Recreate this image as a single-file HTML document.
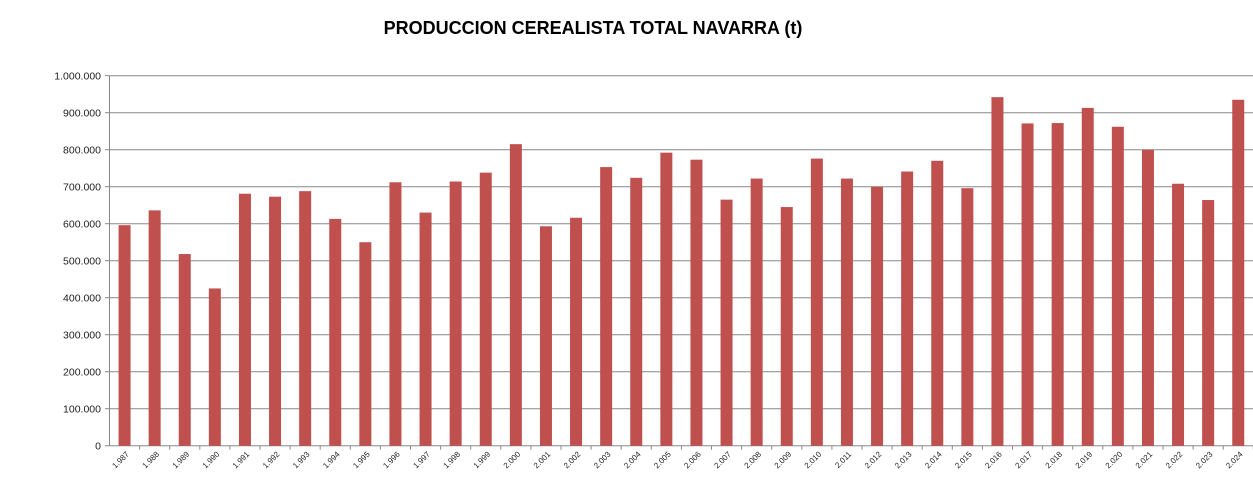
<!DOCTYPE html><html><head><meta charset="utf-8"><style>body{margin:0;background:#fff}svg{display:block}</style></head><body>
<svg id="c" width="1253" height="489" xmlns="http://www.w3.org/2000/svg" font-family="Liberation Sans, sans-serif">
<text x="593" y="34" text-anchor="middle" font-size="18" font-weight="bold">PRODUCCION CEREALISTA TOTAL NAVARRA (t)</text>
<g id="g"></g>
</svg>
<script>
const v=[596,636,518,425,681,673,688,613,550,712,630,714,738,815,593,616,753,724,792,773,665,722,645,776,722,700,741,770,696,942,871,872,913,862,800,708,664,935];
const X0=109.5,Y0=445.7,H=370,W=30.1;let s='';
const lab=['1.000.000','900.000','800.000','700.000','600.000','500.000','400.000','300.000','200.000','100.000','0'];
for(let i=0;i<=10;i++){const y=(Y0-H*(10-i)/10).toFixed(1);s+=`<line x1="${X0}" x2="1253" y1="${y}" y2="${y}" stroke="#888" stroke-width="1"/><line x1="105" x2="${X0}" y1="${y}" y2="${y}" stroke="#888"/><text x="101" y="${+y+4}" text-anchor="end" font-size="10.5" fill="#222">${lab[i]}</text>`;}
s+=`<line x1="${X0}" x2="${X0}" y1="${Y0-H}" y2="${Y0}" stroke="#888"/>`;
v.forEach((d,i)=>{const cx=X0+W*(i+0.5),h=d/1000*H;s+=`<rect x="${cx-6}" y="${Y0-h}" width="12" height="${h}" fill="#c0504d"/>`;
const tx=X0+W*(i+1);s+=`<line x1="${tx}" x2="${tx}" y1="${Y0}" y2="${Y0+4}" stroke="#888"/>`;
const yr=String(1987+i);const t=yr[0]+'.'+yr.slice(1);s+=`<text transform="translate(${cx+5},${Y0+9}) rotate(-45)" text-anchor="end" font-size="8" fill="#222">${t}</text>`;});
document.getElementById('g').innerHTML=s;
</script>
</body></html>
